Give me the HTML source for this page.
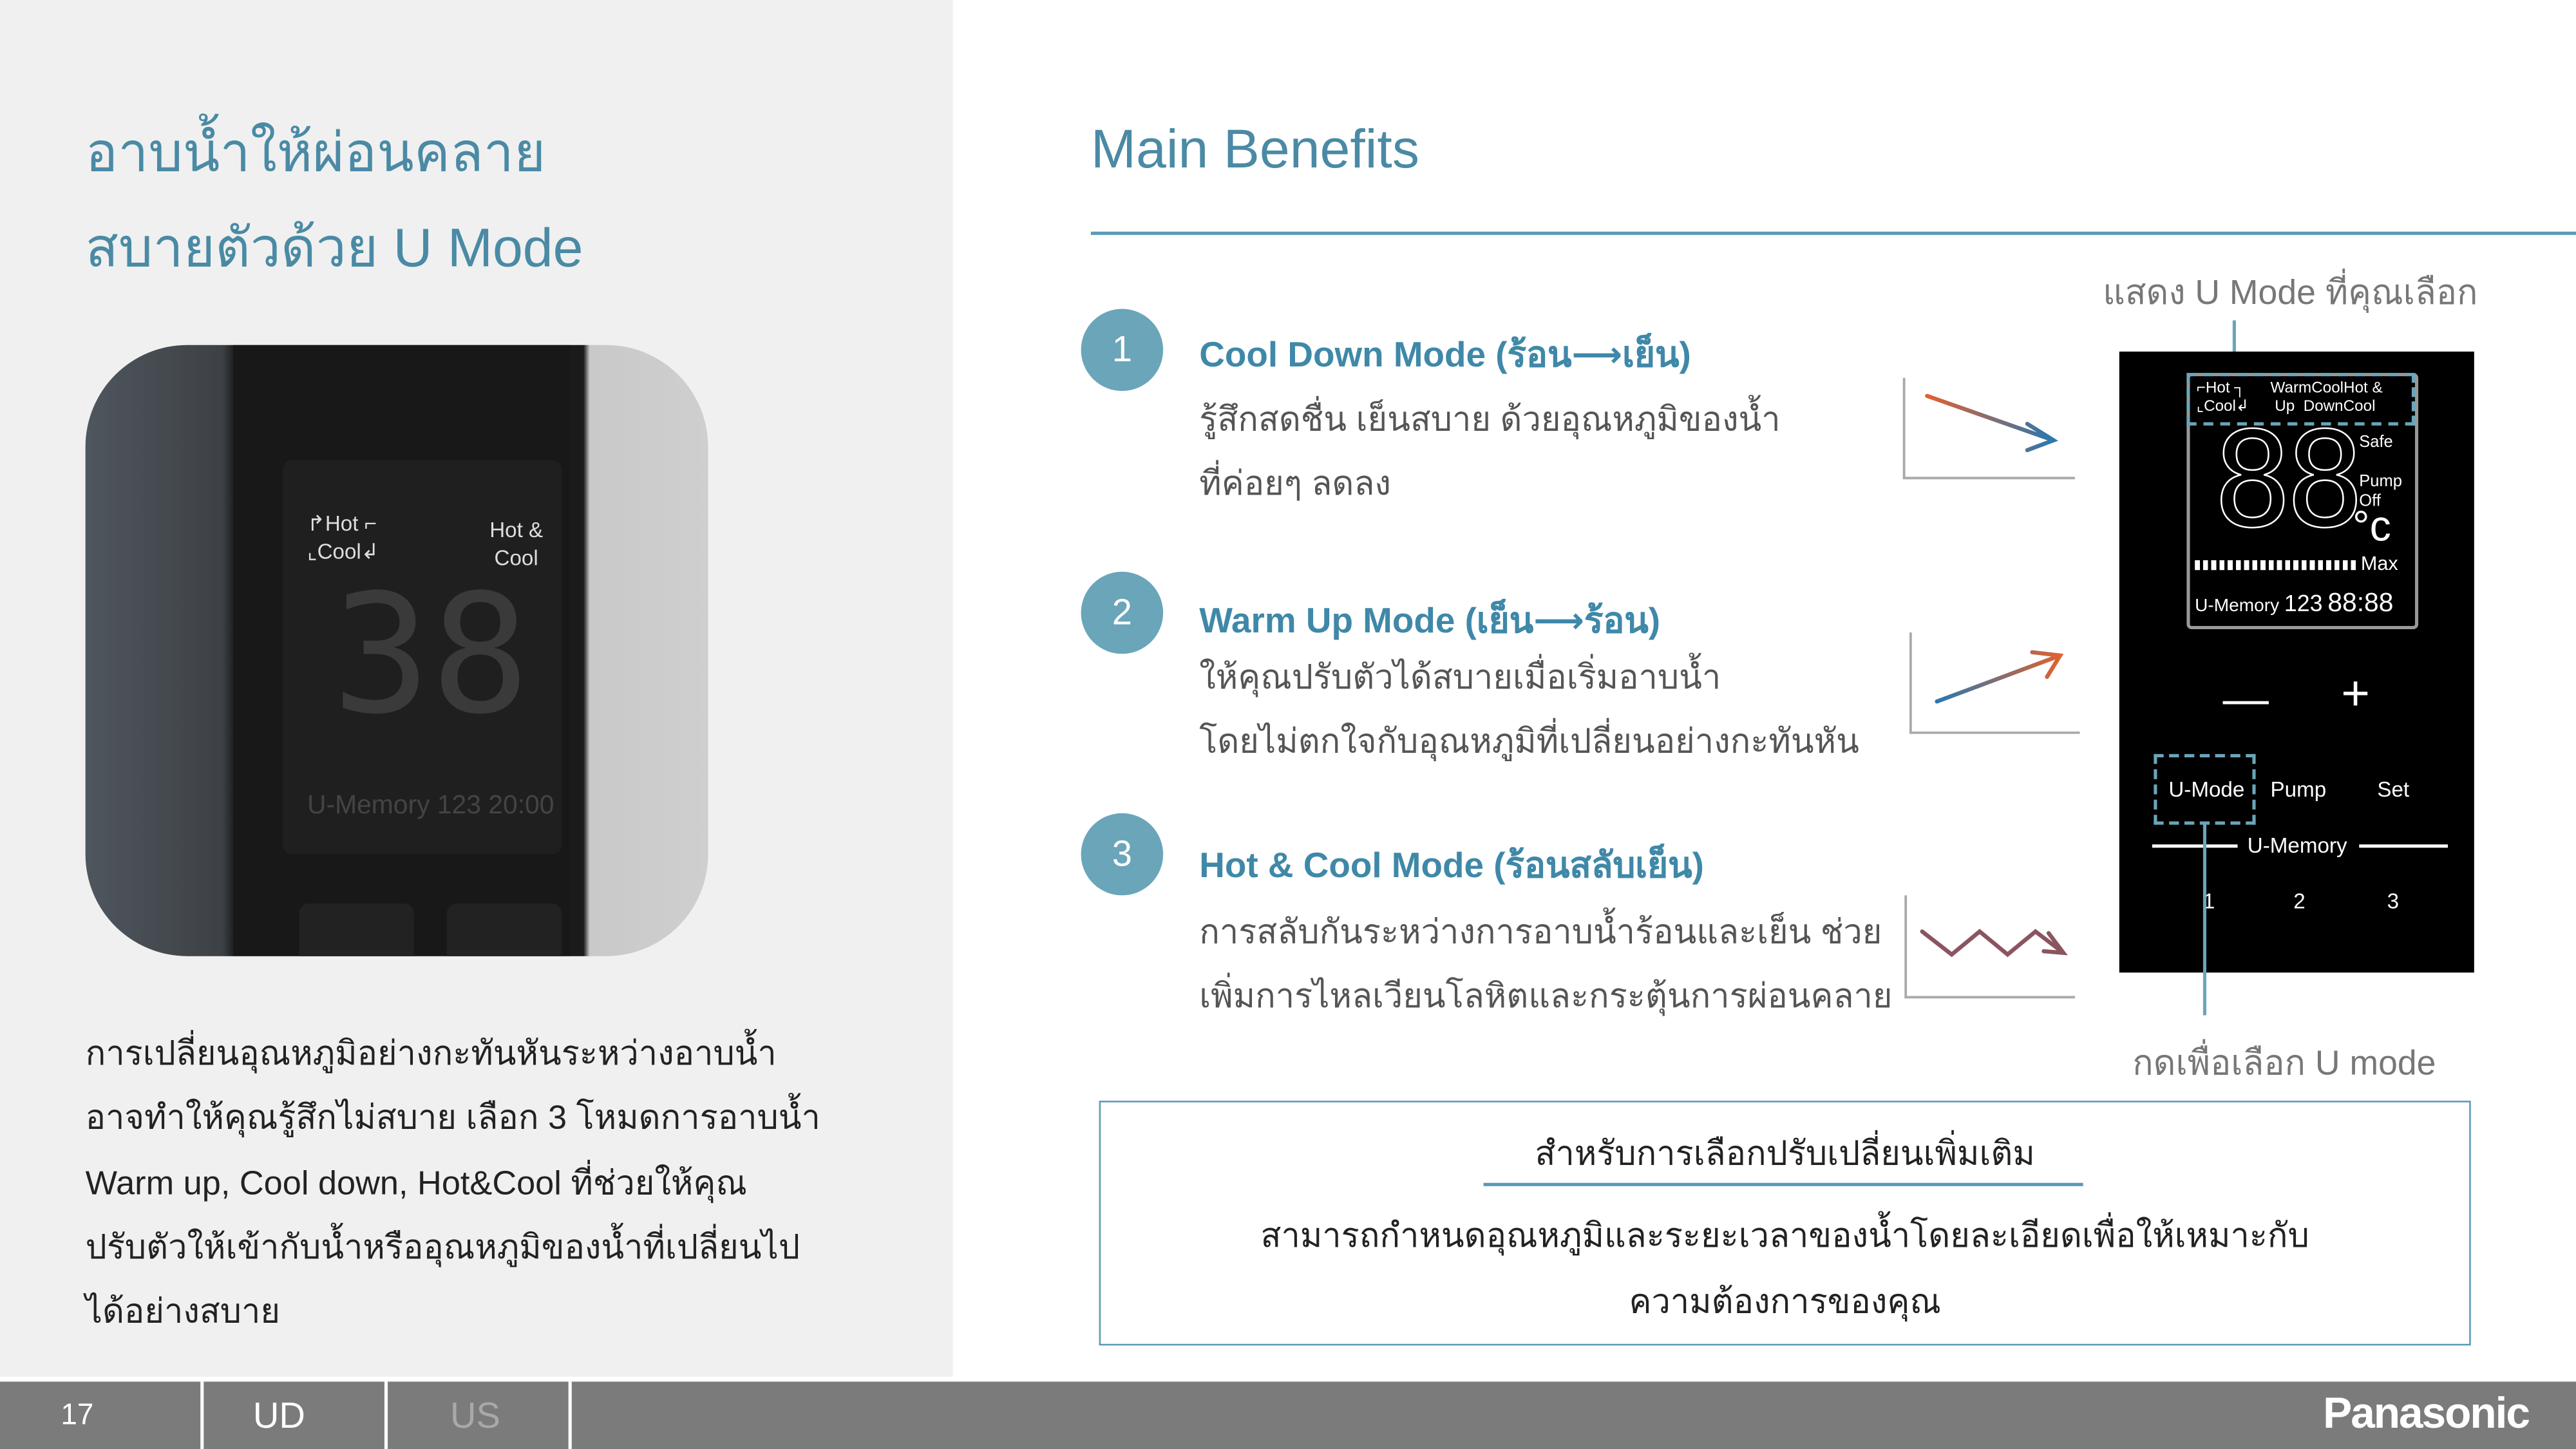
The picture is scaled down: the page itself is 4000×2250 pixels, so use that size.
<!DOCTYPE html>
<html><head><meta charset="utf-8"><style>
html,body{margin:0;padding:0;width:4000px;height:2250px;overflow:hidden;background:#fff}
#s{position:absolute;left:0;top:0;width:1568px;height:882px;transform:scale(2.55102);transform-origin:0 0;font-family:"Liberation Sans","DejaVu Sans",sans-serif}
.a{position:absolute;white-space:nowrap}
.t{color:#4a8aa5;font-size:33px}
.p{color:#222;font-size:20.5px;line-height:39.3px}
.h{color:#3f88a8;font-size:21.5px;font-weight:bold}
.b{color:#555;font-size:20.5px;line-height:39px}
.c{position:absolute;width:50px;height:50px;border-radius:50%;background:#6aa5ba;color:#fff;font-size:22px;text-align:center;line-height:50px}
.w{color:#fff;position:absolute;white-space:nowrap}
</style></head><body><div id="s">
<div class="a" style="left:0;top:0;width:580px;height:838px;background:#f0f0f0"></div>
<div class="a t" style="left:52px;top:66px">อาบน้ำให้ผ่อนคลาย</div>
<div class="a t" style="left:52px;top:124px">สบายตัวด้วย U Mode</div>
<div class="a" style="left:52px;top:210px;width:379px;height:372px;border-radius:62px;overflow:hidden;background:linear-gradient(90deg,#4f565e 0%,#3d4145 22%,#1d1d1e 24%,#1b1b1b 80%,#c9c9c9 81%,#cfcfcf 100%)">
<div class="a" style="left:90px;top:0;width:205px;height:372px;background:#181818"></div>
<div class="a" style="left:120px;top:70px;width:170px;height:240px;background:#1f1f1f;border-radius:6px"></div>
<div class="a" style="left:135px;top:100px;color:#ddd;font-size:13px;line-height:17px">↱Hot ⌐<br>⌞Cool↲</div>
<div class="a" style="left:246px;top:104px;color:#ddd;font-size:13px;line-height:17px;text-align:center">Hot &amp;<br>Cool</div>
<div class="a" style="left:150px;top:130px;color:#3a3a3a;font-size:100px;font-family:'DejaVu Sans Mono',monospace">38</div>
<div class="a" style="left:135px;top:272px;color:#444;font-size:16px">U-Memory 123 20:00</div>
<div class="a" style="left:130px;top:340px;width:70px;height:40px;background:#222;border-radius:6px"></div>
<div class="a" style="left:220px;top:340px;width:70px;height:40px;background:#222;border-radius:6px"></div>
</div>
<div class="a p" style="left:52px;top:622px">การเปลี่ยนอุณหภูมิอย่างกะทันหันระหว่างอาบน้ำ<br>อาจทำให้คุณรู้สึกไม่สบาย เลือก 3 โหมดการอาบน้ำ<br>Warm up, Cool down, Hot&amp;Cool ที่ช่วยให้คุณ<br>ปรับตัวให้เข้ากับน้ำหรืออุณหภูมิของน้ำที่เปลี่ยนไป<br>ได้อย่างสบาย</div>

<div class="a t" style="left:664px;top:72px">Main Benefits</div>
<div class="a" style="left:664px;top:141px;width:904px;height:2px;background:#5a9ab5"></div>

<div class="c" style="left:658px;top:188px">1</div>
<div class="c" style="left:658px;top:348px">2</div>
<div class="c" style="left:658px;top:495px">3</div>
<div class="a h" style="left:730px;top:199px">Cool Down Mode (ร้อน⟶เย็น)</div>
<div class="a b" style="left:730px;top:236px">รู้สึกสดชื่น เย็นสบาย ด้วยอุณหภูมิของน้ำ<br>ที่ค่อยๆ ลดลง</div>
<div class="a h" style="left:730px;top:361px">Warm Up Mode (เย็น⟶ร้อน)</div>
<div class="a b" style="left:730px;top:393px">ให้คุณปรับตัวได้สบายเมื่อเริ่มอาบน้ำ<br>โดยไม่ตกใจกับอุณหภูมิที่เปลี่ยนอย่างกะทันหัน</div>
<div class="a h" style="left:730px;top:510px">Hot &amp; Cool Mode (ร้อนสลับเย็น)</div>
<div class="a b" style="left:730px;top:548px">การสลับกันระหว่างการอาบน้ำร้อนและเย็น ช่วย<br>เพิ่มการไหลเวียนโลหิตและกระตุ้นการผ่อนคลาย</div>

<svg class="a" style="left:0;top:0" width="1568" height="882">
<defs><linearGradient id="g1" x1="0" x2="1"><stop offset="0" stop-color="#e0622f"/><stop offset="1" stop-color="#2a78b0"/></linearGradient>
<linearGradient id="g2" x1="0" x2="1"><stop offset="0" stop-color="#2a78b0"/><stop offset="1" stop-color="#e0622f"/></linearGradient></defs>
<g stroke="#aaa" stroke-width="1.5" fill="none">
<path d="M1159 230V291H1263"/><path d="M1163 385V446H1266"/><path d="M1160 545V607H1263"/></g>
<g stroke-width="2.5" fill="none" stroke-linecap="round">
<path d="M1173 241L1250 268M1234 258L1250 268L1234 274" stroke="url(#g1)"/>
<path d="M1179 427L1254 399M1237 397L1254 399L1246 412" stroke="url(#g2)"/>
<path d="M1170 567L1188 581L1205 567L1222 581L1239 567L1256 580M1247 568L1256 580L1244 579" stroke="#8a5560"/>
</g>
<line x1="1360" y1="195" x2="1360" y2="228" stroke="#6aa5ba" stroke-width="2"/>
</svg>

<div class="a" style="left:1280px;top:162px;color:#777;font-size:21px">แสดง U Mode ที่คุณเลือก</div>

<div class="a" style="left:1290px;top:214px;width:216px;height:378px;background:#000">
<div class="a" style="left:41px;top:13px;width:137px;height:152px;border:2px solid #999;border-radius:3px"></div>
<div class="a" style="left:41px;top:13px;width:135px;height:28px;border:2px dashed #6aa5ba"></div>
<div class="w" style="left:47px;top:17px;font-size:9.5px;line-height:11px">⌐Hot ┐<br>⌞Cool↲</div>
<div class="w" style="left:92px;top:17px;font-size:9.5px;line-height:11px">WarmCoolHot &amp;<br>&nbsp;Up &nbsp;DownCool</div>
<div class="w" style="left:57px;top:36px;font-size:80px;line-height:86px;font-family:'DejaVu Sans Mono',monospace;letter-spacing:-4px;-webkit-text-stroke:1px #fff;color:transparent">88</div>
<div class="w" style="left:146px;top:50px;font-size:10px;line-height:12px">Safe<br><br>Pump<br>Off</div>
<div class="w" style="left:142px;top:91px;font-size:26px">°c</div>
<div class="a" style="left:46px;top:127px;width:100px;height:6px;background:repeating-linear-gradient(90deg,#fff 0 3px,#000 3px 5px)"></div>
<div class="w" style="left:147px;top:122px;font-size:12px">Max</div>
<div class="w" style="left:46px;top:145px;font-size:11px">U-Memory <span style="font-size:14px">123</span> <span style="font-size:16px">88:88</span></div>
<div class="w" style="left:63px;top:196px;font-size:28px;font-weight:200">—</div>
<div class="w" style="left:135px;top:192px;font-size:30px;font-weight:200">+</div>
<div class="a" style="left:21px;top:245px;width:58px;height:39px;border:2.5px dashed #6aa5ba"></div>
<div class="w" style="left:30px;top:259px;font-size:13px">U-Mode</div>
<div class="w" style="left:92px;top:259px;font-size:13px">Pump</div>
<div class="w" style="left:157px;top:259px;font-size:13px">Set</div>
<div class="a" style="left:20px;top:300px;width:52px;height:1.5px;background:#fff"></div>
<div class="a" style="left:146px;top:300px;width:54px;height:1.5px;background:#fff"></div>
<div class="w" style="left:78px;top:293px;font-size:13px">U-Memory</div>
<div class="w" style="left:51px;top:327px;font-size:13px">1</div>
<div class="w" style="left:106px;top:327px;font-size:13px">2</div>
<div class="w" style="left:163px;top:327px;font-size:13px">3</div>
<div class="a" style="left:51px;top:286px;width:2px;height:118px;background:#6aa5ba"></div>
</div>
<div class="a" style="left:1298px;top:631px;color:#777;font-size:21px">กดเพื่อเลือก U mode</div>

<div class="a" style="left:669px;top:670px;width:833px;height:147px;border:1.5px solid #5a9ab5"></div>
<div class="a" style="left:669px;top:686px;width:835px;text-align:center;color:#222;font-size:20.5px">สำหรับการเลือกปรับเปลี่ยนเพิ่มเติม</div>
<div class="a" style="left:903px;top:720px;width:365px;height:1.5px;background:#5a9ab5"></div>
<div class="a" style="left:669px;top:733px;width:835px;text-align:center;color:#222;font-size:20.5px;line-height:39.5px">สามารถกำหนดอุณหภูมิและระยะเวลาของน้ำโดยละเอียดเพื่อให้เหมาะกับ<br>ความต้องการของคุณ</div>

<div class="a" style="left:0;top:841px;width:1568px;height:41px;background:#7b7b7b"></div>
<div class="a" style="left:122px;top:841px;width:2px;height:41px;background:#fff"></div>
<div class="a" style="left:234px;top:841px;width:2px;height:41px;background:#fff"></div>
<div class="a" style="left:346px;top:841px;width:2px;height:41px;background:#fff"></div>
<div class="w" style="left:37px;top:851px;font-size:18px">17</div>
<div class="w" style="left:154px;top:849px;font-size:22px">UD</div>
<div class="a" style="left:274px;top:849px;font-size:22px;color:#a8a8a8">US</div>
<div class="w" style="left:1414px;top:845px;font-size:26.5px;font-weight:bold;letter-spacing:-0.8px">Panasonic</div>
</div></body></html>
